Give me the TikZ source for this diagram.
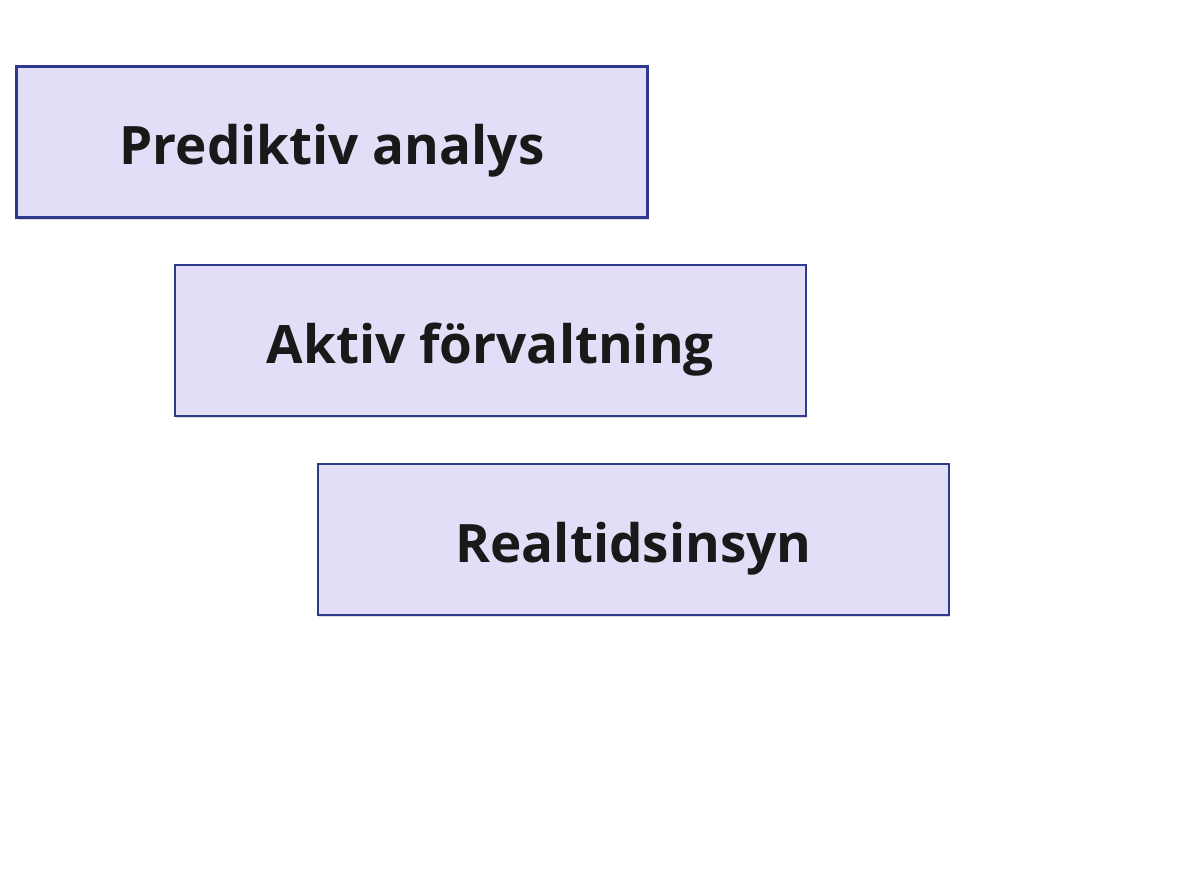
\documentclass[tikz,border=0pt]{standalone}
\usepackage{fontspec}
\setmainfont{Open Sans}
\usetikzlibrary{shadows}
\definecolor{boxfill}{HTML}{E2DEF7}
\definecolor{boxedge}{HTML}{2F3A8E}
\newcommand{\lowered}[1]{\raisebox{-22.5pt}[0pt][0pt]{#1}}
\tikzset{
  box/.style={draw=boxedge, fill=boxfill, line width=2.5pt, minimum width=631pt, minimum height=151pt, inner sep=0pt, font=\fontsize{53}{63}\selectfont\bfseries, text=black!90,
    drop shadow={shadow xshift=1pt, shadow yshift=-2pt, fill=black, opacity=0.15}}
}
\begin{document}
\begin{tikzpicture}[x=1pt,y=-1pt]
\useasboundingbox (0,0) rectangle (1193,896);
\node[box] (a) at (332,142) {\lowered{Prediktiv analys}};
\node[box] (b) at (490.5,340.5) {\lowered{Aktiv förvaltning}};
\node[box] (c) at (633.5,539.5) {\lowered{Realtidsinsyn}};
\end{tikzpicture}
\end{document}
